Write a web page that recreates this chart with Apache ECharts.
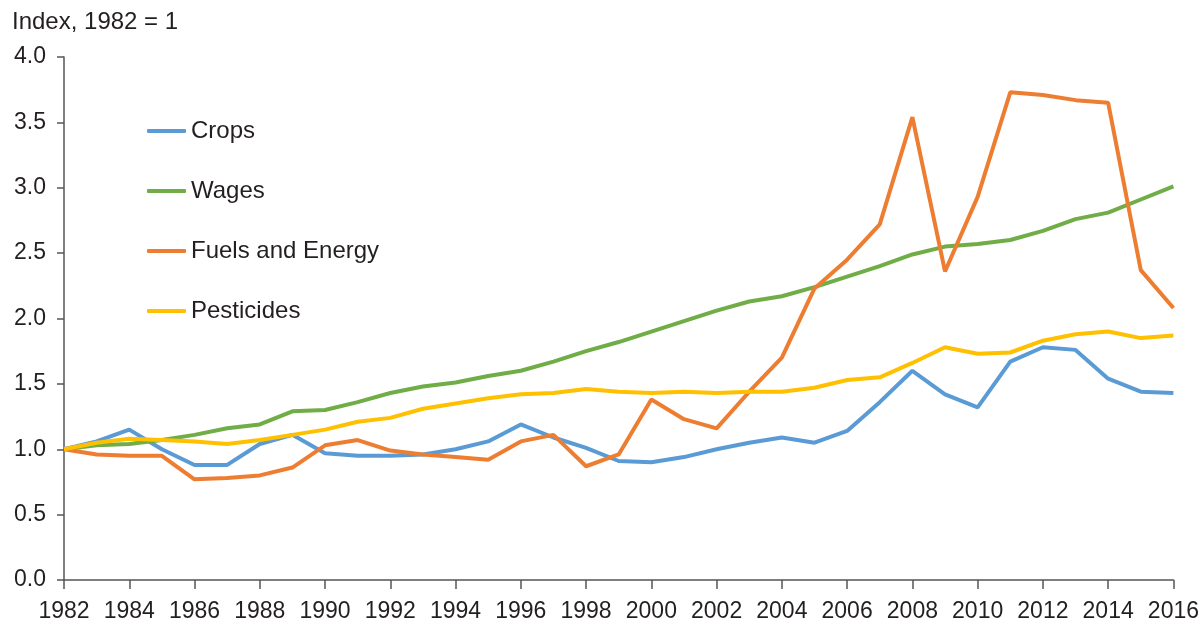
<!DOCTYPE html>
<html>
<head>
<meta charset="utf-8">
<script src="https://cdn.jsdelivr.net/npm/echarts@6/dist/echarts.min.js"></script>
<style>
html,body{margin:0;padding:0;background:#fff;}
#chart{width:1202px;height:623px;}
</style>
</head>
<body>
<div id="chart"></div>
<script>
var years = [];
for (var y = 1982; y <= 2016; y++) years.push(String(y));

var crops = [1.00,1.06,1.15,1.00,0.88,0.88,1.04,1.11,0.97,0.95,0.95,0.96,1.00,1.06,1.19,1.09,1.01,0.91,0.90,0.94,1.00,1.05,1.09,1.05,1.14,1.36,1.60,1.42,1.32,1.67,1.78,1.76,1.54,1.44,1.43];
var wages = [1.00,1.03,1.04,1.07,1.11,1.16,1.19,1.29,1.30,1.36,1.43,1.48,1.51,1.56,1.60,1.67,1.75,1.82,1.90,1.98,2.06,2.13,2.17,2.24,2.32,2.40,2.49,2.55,2.57,2.60,2.67,2.76,2.81,2.91,3.01];
var fuels = [1.00,0.96,0.95,0.95,0.77,0.78,0.80,0.86,1.03,1.07,0.99,0.96,0.94,0.92,1.06,1.11,0.87,0.96,1.38,1.23,1.16,1.44,1.70,2.23,2.45,2.72,3.54,2.36,2.93,3.73,3.71,3.67,3.65,2.37,2.08];
var pesticides = [1.00,1.05,1.08,1.07,1.06,1.04,1.07,1.11,1.15,1.21,1.24,1.31,1.35,1.39,1.42,1.43,1.46,1.44,1.43,1.44,1.43,1.44,1.44,1.47,1.53,1.55,1.66,1.78,1.73,1.74,1.83,1.88,1.90,1.85,1.87];

var seriesNames = ['Crops','Wages','Fuels and Energy','Pesticides'];
var seriesColors = ['#5B9BD5','#70AD47','#ED7D31','#FFC000'];
var seriesData = [crops, wages, fuels, pesticides];

var chart = echarts.init(document.getElementById('chart'));
var font = '"Liberation Sans", Arial, Helvetica, sans-serif';
var textColor = '#231F20';
var axisColor = '#555555';

chart.setOption({
  animation: false,
  textStyle: {fontFamily: font},
  title: {
    text: 'Index, 1982 = 1',
    left: 12, top: 10, padding: 0,
    textStyle: {fontFamily: font, fontSize: 24, fontWeight: 'normal', color: textColor, lineHeight: 24}
  },
  legend: {
    orient: 'vertical',
    left: 147, top: 119, padding: 0,
    itemWidth: 39, itemHeight: 4,
    itemGap: 36,
    icon: 'roundRect',
    textStyle: {fontFamily: font, fontSize: 24, color: textColor, lineHeight: 24},
    data: seriesNames
  },
  grid: {left: 64, right: 26, top: 57, bottom: 42, containLabel: false},
  xAxis: {
    type: 'category',
    data: years,
    boundaryGap: false,
    axisLine: {lineStyle: {color: axisColor, width: 1.5}},
    axisTick: {interval: 1, length: 9, lineStyle: {color: axisColor, width: 1.5}},
    axisLabel: {interval: 1, margin: 20, fontSize: 23, color: textColor, fontFamily: font},
    splitLine: {show: false}
  },
  yAxis: {
    type: 'value',
    min: 0, max: 4, interval: 0.5,
    axisLine: {show: true, lineStyle: {color: axisColor, width: 1.5}},
    axisTick: {show: true, length: 7, lineStyle: {color: axisColor, width: 1.5}},
    axisLabel: {margin: 18, fontSize: 23, color: textColor, fontFamily: font,
      padding: [12, 0, 0, 0],
      formatter: function (v) { return v.toFixed(1); }},
    splitLine: {show: false}
  },
  series: seriesNames.map(function (name, i) {
    return {
      name: name,
      type: 'line',
      data: seriesData[i],
      symbol: 'none',
      color: seriesColors[i],
      lineStyle: {width: 4, color: seriesColors[i]},
      itemStyle: {color: seriesColors[i]}
    };
  })
});
</script>
</body>
</html>
